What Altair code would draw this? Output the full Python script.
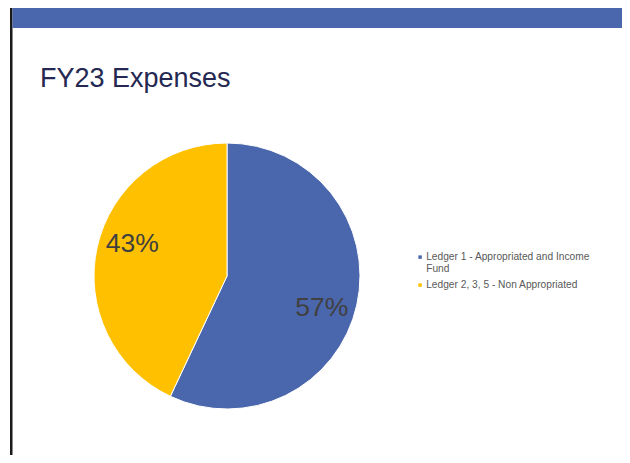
import altair as alt
import pandas as pd

categories = ["Ledger 1 - Appropriated and Income Fund", "Ledger 2, 3, 5 - Non Appropriated"]
values = [57, 43]
labels = ["57%", "43%"]
colors = ["#4A66AC", "#FFC000"]
order = [1, 2]

df = pd.DataFrame({"category": categories, "value": values, "label": labels, "order": order})

W, H = 614, 447
CX, CY, R = 219, 268, 133

color = alt.Color(
    "category:N",
    scale=alt.Scale(domain=categories, range=colors),
    sort=categories,
    legend=alt.Legend(
        title=None,
        orient="none",
        legendX=407,
        legendY=244,
        symbolType="square",
        symbolSize=12,
        symbolStrokeWidth=0,
        labelFont="Liberation Sans",
        labelFontSize=10.2,
        labelColor="#595959",
        labelLimit=300,
        labelOffset=1,
        rowPadding=5,
        padding=0,
        labelExpr="datum.label == 'Ledger 1 - Appropriated and Income Fund' ? ['Ledger 1 - Appropriated and Income', 'Fund'] : datum.label",
    ),
)

base = alt.Chart(df).encode(
    theta=alt.Theta("value:Q", stack=True),
    order=alt.Order("order:Q"),
)

pie = base.mark_arc(outerRadius=R, stroke="white", strokeWidth=1).encode(
    color=color,
    x=alt.value(CX),
    y=alt.value(CY),
)

text = base.mark_text(
    radius=100, thetaOffset=0.105, font="Liberation Sans", fontSize=26.5, color="#404040"
).encode(
    text="label:N",
    x=alt.value(CX),
    y=alt.value(CY),
)

bar_df = pd.DataFrame({"k": [0]})
border = alt.Chart(bar_df).mark_rect(color="#1a1a1a").encode(
    x=alt.value(2), x2=alt.value(4.5), y=alt.value(0), y2=alt.value(H)
)
topbar = alt.Chart(bar_df).mark_rect(color="#4A66AC").encode(
    x=alt.value(4.5), x2=alt.value(W), y=alt.value(0), y2=alt.value(20)
)

chart = alt.layer(border, topbar, pie, text).properties(
    width=W,
    height=H,
    autosize=alt.AutoSizeParams(type="none"),
    padding=0,
    background="white",
    title=alt.Title(
        "FY23 Expenses",
        anchor="start",
        font="Liberation Sans",
        fontSize=27,
        fontWeight="normal",
        color="#242852",
        baseline="alphabetic",
        dx=32,
        dy=106,
        offset=0,
    ),
).configure_view(stroke=None)

chart.save("out.html", embed_options={"renderer": "svg", "actions": False})
